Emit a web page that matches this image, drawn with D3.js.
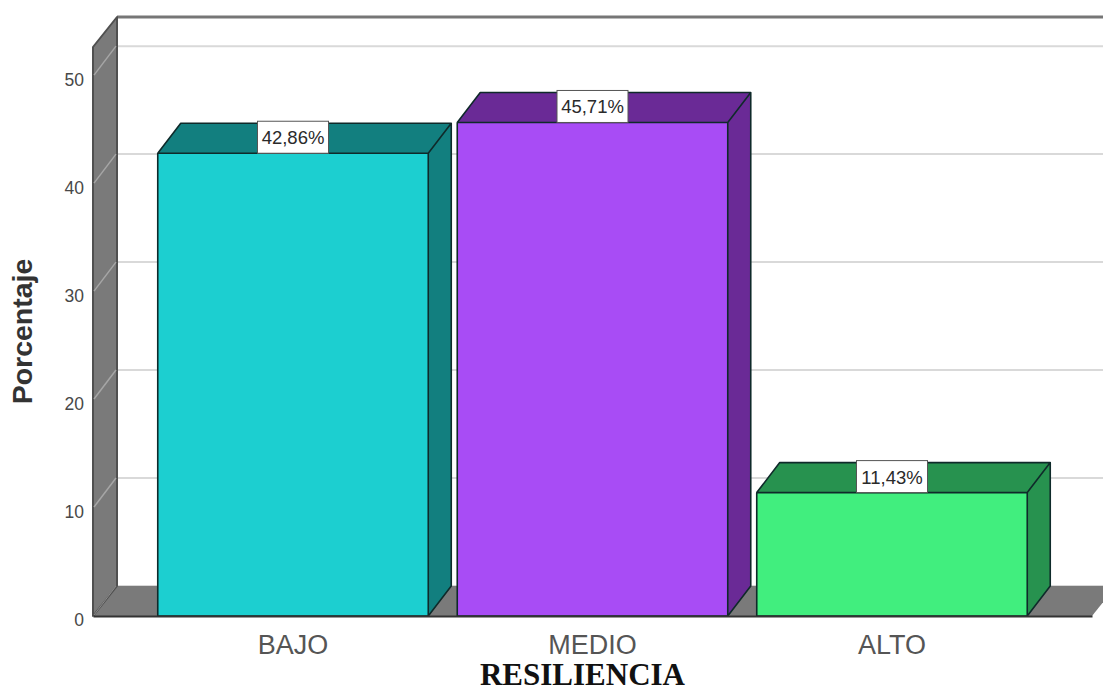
<!DOCTYPE html>
<html lang="es">
<head>
<meta charset="utf-8">
<title>Resiliencia</title>
<script src="https://cdn.jsdelivr.net/npm/d3@7"></script>
<style>
  html, body { margin: 0; padding: 0; background: #fff; }
  svg { display: block; }
</style>
</head>
<body>
<svg id="chart" width="1103" height="686"></svg>
<script>
// Chart data
const categories = ["BAJO", "MEDIO", "ALTO"];
const percentages = [42.86, 45.71, 11.43];
const percentLabels = ["42,86%", "45,71%", "11,43%"];
const yTicks = [0, 10, 20, 30, 40, 50];
const frontColors = ["#1ccfd0", "#a84cf5", "#41ee7e"];
const sideColors = ["#127f7f", "#6a2a96", "#27924f"];
const xTitle = "RESILIENCIA";
const yTitle = "Porcentaje";

// Oblique projection offsets of the 3D frame and of the bars
const depthX = 24;
const depthY = -30;
const barDepthX = 23;
const wallColor = "#7a7a7a";
const edgeColor = "#0f2a2a";

const svg = d3.select("#chart");

const x = d3.scaleBand()
  .domain(categories)
  .range([93, 1092])
  .paddingInner(0.0968)
  .paddingOuter(0.2162);

const y = d3.scaleLinear().domain([0, 52.7]).range([616, 47]);

const poly = pts => pts.map(p => p.join(",")).join(" ");
const [plotLeft, plotRight] = x.range();
const [base, ceiling] = y.range();

// Back wall grid lines
svg.append("g").selectAll("line").data(yTicks).join("line")
  .attr("x1", plotLeft + depthX).attr("x2", 1103)
  .attr("y1", d => y(d) + depthY).attr("y2", d => y(d) + depthY)
  .attr("stroke", "#d9d9d9").attr("stroke-width", 2);

// Upper edge of the back wall
svg.append("line")
  .attr("x1", plotLeft + depthX).attr("x2", 1103)
  .attr("y1", ceiling + depthY).attr("y2", ceiling + depthY)
  .attr("stroke", "#767676").attr("stroke-width", 3);

// Floor and left wall
svg.append("polygon")
  .attr("points", poly([[plotLeft, base], [plotRight, base], [plotRight + depthX, base + depthY], [plotLeft + depthX, base + depthY]]))
  .attr("fill", wallColor);
svg.append("polygon")
  .attr("points", poly([[plotLeft, base], [plotLeft + depthX, base + depthY], [plotLeft + depthX, ceiling + depthY], [plotLeft, ceiling]]))
  .attr("fill", wallColor).attr("stroke", "#505050").attr("stroke-width", 2)
  .attr("stroke-linejoin", "round");

// Grid lines carried across the left wall
svg.append("g").selectAll("line").data(yTicks.slice(1)).join("line")
  .attr("x1", plotLeft + 1).attr("x2", plotLeft + depthX - 1)
  .attr("y1", d => y(d) - 1).attr("y2", d => y(d) + depthY)
  .attr("stroke", "#a6a6a6").attr("stroke-width", 1.5);
svg.append("line")
  .attr("x1", plotLeft + 1).attr("x2", plotLeft + depthX - 1)
  .attr("y1", base - 1).attr("y2", base + depthY)
  .attr("stroke", "#8c8c8c").attr("stroke-width", 1);

// Bars as three-faced boxes
const bars = svg.append("g").selectAll("g")
  .data(categories.map((c, i) => ({ c, i, v: percentages[i] })))
  .join("g");

bars.append("polygon")
  .attr("points", d => {
    const x0 = x(d.c), x1 = x0 + x.bandwidth(), t = y(d.v);
    return poly([[x0, t], [x1, t], [x1 + barDepthX, t + depthY], [x0 + barDepthX, t + depthY]]);
  })
  .attr("fill", d => sideColors[d.i]);

bars.append("polygon")
  .attr("points", d => {
    const x1 = x(d.c) + x.bandwidth(), t = y(d.v);
    return poly([[x1, t], [x1 + barDepthX, t + depthY], [x1 + barDepthX, base + depthY], [x1, base]]);
  })
  .attr("fill", d => sideColors[d.i]);

bars.append("rect")
  .attr("x", d => x(d.c))
  .attr("y", d => y(d.v))
  .attr("width", x.bandwidth())
  .attr("height", d => base - y(d.v))
  .attr("fill", d => frontColors[d.i]);

// Box outlines
bars.append("path")
  .attr("d", d => {
    const x0 = x(d.c), x1 = x0 + x.bandwidth(), t = y(d.v);
    return `M${x0},${base}V${t}H${x1}V${base}Z` +
      `M${x0},${t}l${barDepthX},${depthY}H${x1 + barDepthX}V${base + depthY}L${x1},${base}` +
      `M${x1},${t}l${barDepthX},${depthY}`;
  })
  .attr("fill", "none").attr("stroke", edgeColor)
  .attr("stroke-width", 1.6).attr("stroke-linejoin", "round");

// Value labels sitting on the front top edge
const boxW = 71, boxH = 32;
bars.append("rect")
  .attr("x", d => x(d.c) + x.bandwidth() / 2 - boxW / 2)
  .attr("y", d => y(d.v) - boxH)
  .attr("width", boxW).attr("height", boxH)
  .attr("fill", "#fff").attr("stroke", "#555").attr("stroke-width", 1);
bars.append("text")
  .attr("x", d => x(d.c) + x.bandwidth() / 2)
  .attr("y", d => y(d.v) - 9)
  .attr("text-anchor", "middle")
  .attr("font-family", "'Liberation Sans', Arial, sans-serif")
  .attr("font-size", 18.5)
  .attr("fill", "#2a2a2a")
  .text(d => percentLabels[d.i]);

// Axes
const yAxis = svg.append("g")
  .attr("transform", `translate(${plotLeft},0)`)
  .call(d3.axisLeft(y).tickValues(yTicks).tickFormat(d3.format("d")).tickSize(0).tickPadding(9));
yAxis.select(".domain").remove();
yAxis.selectAll("text")
  .attr("dy", "0.55em")
  .attr("font-family", "'Liberation Sans', Arial, sans-serif")
  .attr("font-size", 17.5)
  .attr("fill", "#484848");

const xAxis = svg.append("g")
  .attr("transform", `translate(0,${base})`)
  .call(d3.axisBottom(x).tickSize(0).tickPadding(19));
xAxis.select(".domain").attr("stroke", "#333").attr("stroke-width", 2);
xAxis.selectAll("text")
  .attr("font-family", "'Liberation Sans', Arial, sans-serif")
  .attr("font-size", 27)
  .attr("fill", "#555");

// Axis titles
svg.append("text")
  .attr("x", 582.5).attr("y", 685)
  .attr("text-anchor", "middle")
  .attr("font-family", "'Liberation Serif', 'Times New Roman', serif")
  .attr("font-weight", "bold")
  .attr("font-size", 31)
  .attr("fill", "#111")
  .text(xTitle);

svg.append("text")
  .attr("transform", "translate(32,331.5) rotate(-90)")
  .attr("text-anchor", "middle")
  .attr("font-family", "'Liberation Sans', Arial, sans-serif")
  .attr("font-weight", "bold")
  .attr("font-size", 28.5)
  .attr("fill", "#333")
  .text(yTitle);
</script>
</body>
</html>
